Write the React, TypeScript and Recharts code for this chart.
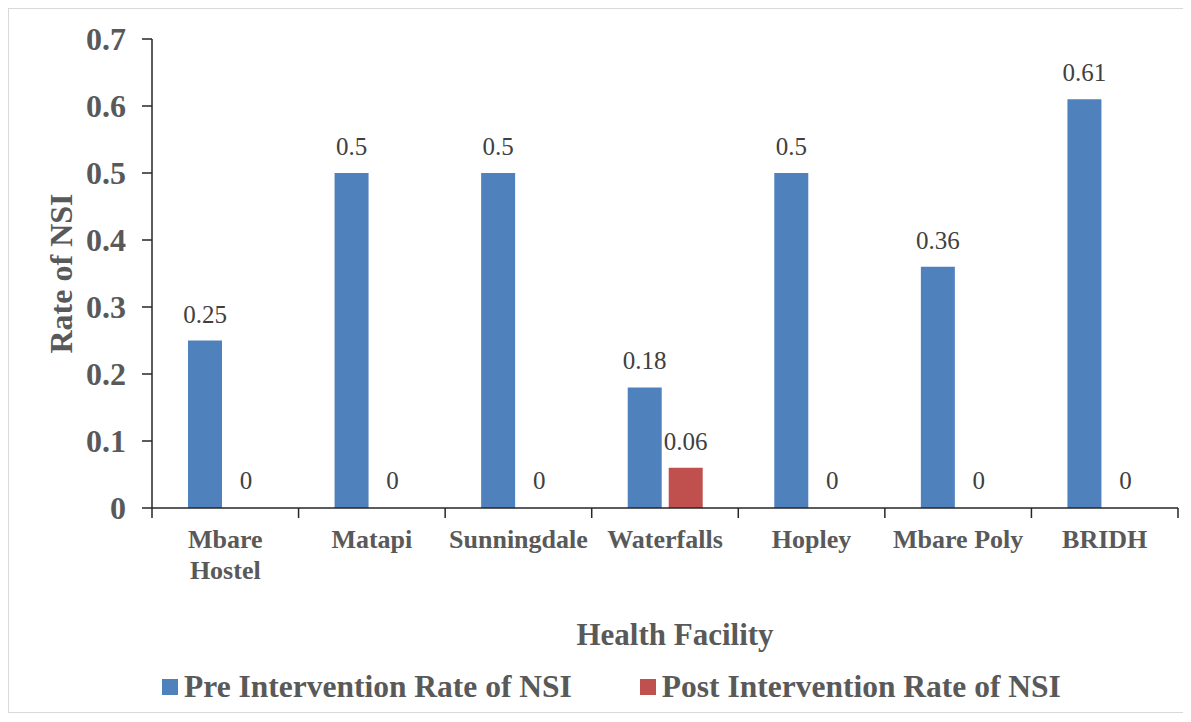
import React from 'react';
import { Bar, BarChart, Cell, LabelList, Legend, XAxis, YAxis } from 'recharts';

const CATEGORIES = ['Mbare Hostel', 'Matapi', 'Sunningdale', 'Waterfalls', 'Hopley', 'Mbare Poly', 'BRIDH'];
const PRE_RATES = [0.25, 0.5, 0.5, 0.18, 0.5, 0.36, 0.61];
const POST_RATES = [0, 0, 0, 0.06, 0, 0, 0];
const Y_TICKS = [0, 0.1, 0.2, 0.3, 0.4, 0.5, 0.6, 0.7];

const SERIES = [
  { key: 'pre', name: 'Pre Intervention Rate of NSI', color: '#4F81BD' },
  { key: 'post', name: 'Post Intervention Rate of NSI', color: '#C0504D' },
];

const rows = CATEGORIES.map((name, i) => ({ name, pre: PRE_RATES[i], post: POST_RATES[i] }));

const FONT = '"Liberation Serif", "Times New Roman", serif';
const TEXT = '#595959';
const AXIS = '#262626';

const W = 1174;
const H = 703;
const MARGIN = { top: 30, right: 5, bottom: 5, left: 0 };

// Excel-style x tick: marks at category edges, labels wrap when long
function CategoryTick(props: any) {
  const { x, y, payload, width, visibleTicksCount, index } = props;
  const band = width / visibleTicksCount;
  const label: string = payload.value;
  const lines = label.length > 10 && label.includes(' ') ? label.split(' ') : [label];
  return (
    <g>
      <line x1={x - band / 2} x2={x - band / 2} y1={y} y2={y + 10} stroke={AXIS} strokeWidth={1.5} />
      {index === visibleTicksCount - 1 && (
        <line x1={x + band / 2} x2={x + band / 2} y1={y} y2={y + 10} stroke={AXIS} strokeWidth={1.5} />
      )}
      <text x={x} y={y + 40} textAnchor="middle" fill={TEXT} fontFamily={FONT} fontWeight="bold" fontSize={26}>
        {lines.map((l, i) => (
          <tspan key={i} x={x} dy={i === 0 ? 0 : 31}>
            {l}
          </tspan>
        ))}
      </text>
    </g>
  );
}

function ValueLabel(props: any) {
  const { x, y, width, value } = props;
  return (
    <text x={x + width / 2} y={y - 18} textAnchor="middle" fill="#404040" fontFamily={FONT} fontSize={25}>
      {value}
    </text>
  );
}

function LegendContent() {
  return (
    <div style={{ display: 'flex', alignItems: 'center', height: 40, paddingLeft: 153, fontFamily: FONT }}>
      {SERIES.map((s, i) => (
        <div key={s.key} style={{ display: 'flex', alignItems: 'center', marginRight: i === 0 ? 68 : 0 }}>
          <span style={{ width: 16, height: 16, background: s.color, marginRight: 6 }} />
          <span style={{ fontSize: 31.5, fontWeight: 'bold', color: TEXT, lineHeight: '40px' }}>{s.name}</span>
        </div>
      ))}
    </div>
  );
}

export default function App() {
  return (
    <div style={{ width: W, height: H, border: '1px solid #d9d9d9', background: '#fff' }}>
      <BarChart width={W} height={H} data={rows} margin={MARGIN} barSize={34} barGap={7}>
        <XAxis
          dataKey="name"
          height={159}
          tickLine={false}
          tickSize={0}
          tickMargin={0}
          interval={0}
          stroke={AXIS}
          strokeWidth={1.5}
          tick={<CategoryTick />}
          label={{
            content: ({ viewBox }: any) => (
              <text
                x={viewBox.x + viewBox.width / 2 + 10}
                y={viewBox.y + 137}
                textAnchor="middle"
                fill={TEXT}
                fontFamily={FONT}
                fontWeight="bold"
                fontSize={31}
              >
                Health Facility
              </text>
            ),
          }}
        />
        <YAxis
          width={143}
          domain={[0, 0.7]}
          ticks={Y_TICKS}
          interval={0}
          tickSize={10}
          tickMargin={16}
          stroke={AXIS}
          strokeWidth={1.5}
          tickFormatter={(v: number) => (v === 0 ? '0' : v.toFixed(1))}
          tick={{ fill: TEXT, fontFamily: FONT, fontWeight: 'bold', fontSize: 32 }}
          label={{
            content: ({ viewBox }: any) => (
              <text
                x={viewBox.x + 52}
                y={viewBox.y + viewBox.height / 2}
                transform={`rotate(-90 ${viewBox.x + 52} ${viewBox.y + viewBox.height / 2})`}
                textAnchor="middle"
                dominantBaseline="central"
                fill={TEXT}
                fontFamily={FONT}
                fontWeight="bold"
                fontSize={32}
              >
                Rate of NSI
              </text>
            ),
          }}
        />
        <Legend verticalAlign="bottom" wrapperStyle={{ left: 0, width: W }} content={<LegendContent />} />
        {SERIES.map((s) => (
          <Bar
            key={s.key}
            dataKey={s.key}
            name={s.name}
            fill={s.color}
            minPointSize={(v: number) => (v === 0 ? 1 : 0)}
            isAnimationActive={false}
          >
            {rows.map((r, i) => (
              <Cell key={i} fillOpacity={(r as any)[s.key] === 0 ? 0 : 1} />
            ))}
            <LabelList dataKey={s.key} content={<ValueLabel />} />
          </Bar>
        ))}
      </BarChart>
    </div>
  );
}
